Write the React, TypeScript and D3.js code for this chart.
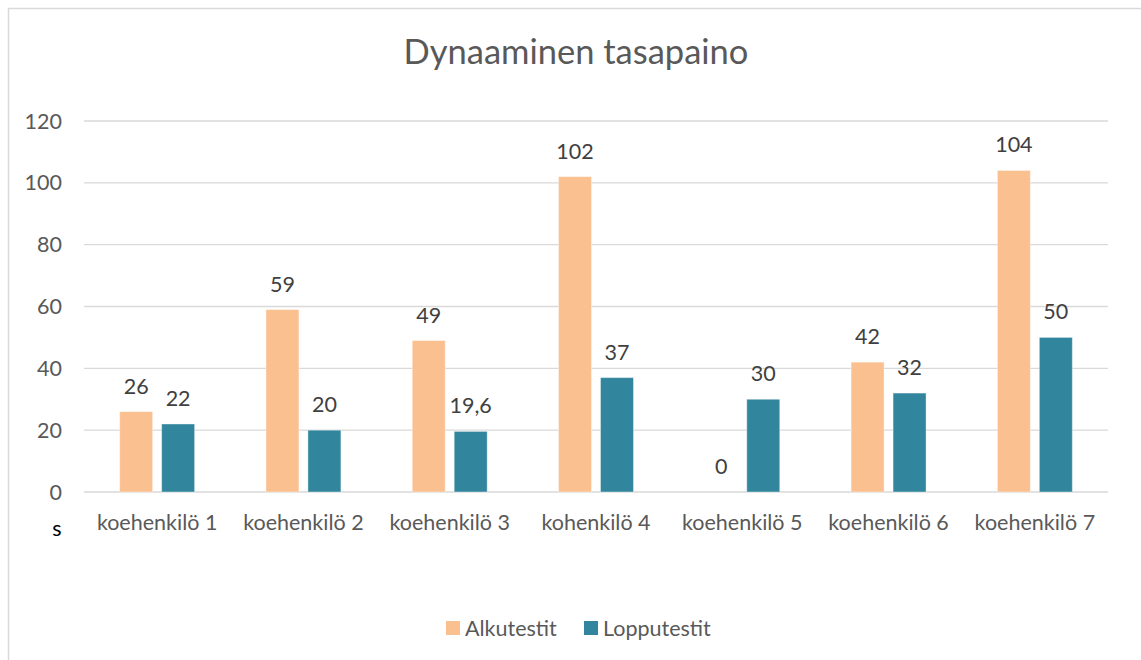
import React, { useEffect, useRef } from 'react';
import * as d3 from 'd3';

const categories = ['koehenkilö 1', 'koehenkilö 2', 'koehenkilö 3', 'kohenkilö 4', 'koehenkilö 5', 'koehenkilö 6', 'koehenkilö 7'];
const alkutestit = [26, 59, 49, 102, 0, 42, 104];
const lopputestit = [22, 20, 19.6, 37, 30, 32, 50];
const seriesNames = ['Alkutestit', 'Lopputestit'];
const seriesColors = ['#FAC090', '#31859C'];
const yTicks = [0, 20, 40, 60, 80, 100, 120];

const W = 1141;
const H = 660;
const FONT = 'Lato, "Open Sans", sans-serif';
const FS = 21.5;

const App: React.FC = () => {
  const svgRef = useRef<SVGSVGElement>(null);

  useEffect(() => {
    if (!svgRef.current) return;
    const svg = d3.select(svgRef.current);
    svg.selectAll('*').remove();

    // chart frame
    svg.append('rect')
      .attr('x', 8.5).attr('y', 8.5)
      .attr('width', W + 20).attr('height', H + 20)
      .attr('fill', '#fff').attr('stroke', '#d9d9d9').attr('stroke-width', 1.5);

    const left = 84, right = 1108, top = 121, bottom = 492;

    const x = d3.scaleBand<string>().domain(categories).range([left, right]);
    const inner = d3.scaleBand<string>().domain(seriesNames).range([0, x.bandwidth()]).paddingInner(0.214).paddingOuter(0.85);
    const y = d3.scaleLinear().domain([0, 120]).range([bottom, top]);

    // title
    svg.append('text')
      .attr('x', 576).attr('y', 64)
      .attr('text-anchor', 'middle')
      .attr('font-family', FONT).attr('font-size', 34.5)
      .attr('fill', '#595959')
      .text('Dynaaminen tasapaino');

    // gridlines + y ticks
    const g = svg.append('g');
    g.selectAll('line.grid').data(yTicks).enter().append('line')
      .attr('x1', left).attr('x2', right)
      .attr('y1', d => y(d)).attr('y2', d => y(d))
      .attr('stroke', '#d9d9d9').attr('stroke-width', 1.3);
    g.selectAll('text.ytick').data(yTicks).enter().append('text')
      .attr('x', 62).attr('y', d => y(d))
      .attr('dy', '0.35em')
      .attr('text-anchor', 'end')
      .attr('font-family', FONT).attr('font-size', FS)
      .attr('fill', '#595959')
      .text(d => String(d));

    // bars
    const data = [alkutestit, lopputestit];
    data.forEach((vals, si) => {
      const gs = svg.append('g');
      gs.selectAll('rect').data(vals).enter().append('rect')
        .attr('x', (_, i) => (x(categories[i]) as number) + (inner(seriesNames[si]) as number))
        .attr('y', d => y(d))
        .attr('width', inner.bandwidth())
        .attr('height', d => bottom - y(d))
        .attr('fill', seriesColors[si])
        .attr('stroke', d => (d > 0 ? '#ffffff' : 'none'))
        .attr('stroke-opacity', 0.4)
        .attr('stroke-width', 1);
      gs.selectAll('text').data(vals).enter().append('text')
        .attr('x', (_, i) => (x(categories[i]) as number) + (inner(seriesNames[si]) as number) + inner.bandwidth() / 2)
        .attr('y', d => y(d) - 18)
        .attr('text-anchor', 'middle')
        .attr('font-family', FONT).attr('font-size', FS)
        .attr('fill', '#404040')
        .text(d => String(d).replace('.', ','));
    });

    // x labels
    svg.append('g').selectAll('text').data(categories).enter().append('text')
      .attr('x', d => (x(d) as number) + x.bandwidth() / 2)
      .attr('y', 530)
      .attr('text-anchor', 'middle')
      .attr('font-family', FONT).attr('font-size', FS)
      .attr('fill', '#595959')
      .text(d => d);

    // unit label
    svg.append('text')
      .attr('x', 57).attr('y', 536)
      .attr('text-anchor', 'middle')
      .attr('font-family', FONT).attr('font-size', FS)
      .attr('fill', '#000')
      .text('s');

    // legend
    const legendX = [446, 584];
    const leg = svg.append('g');
    seriesNames.forEach((name, i) => {
      leg.append('rect')
        .attr('x', legendX[i]).attr('y', 621)
        .attr('width', 14).attr('height', 14)
        .attr('fill', seriesColors[i]);
      leg.append('text')
        .attr('x', legendX[i] + 19).attr('y', 628)
        .attr('dy', '0.35em')
        .attr('font-family', FONT).attr('font-size', FS)
        .attr('fill', '#595959')
        .text(name);
    });
  }, []);

  return (
    <svg
      ref={svgRef}
      width={W}
      height={H}
      style={{ position: 'absolute', left: 0, top: 0, display: 'block' }}
    />
  );
};

export default App;
